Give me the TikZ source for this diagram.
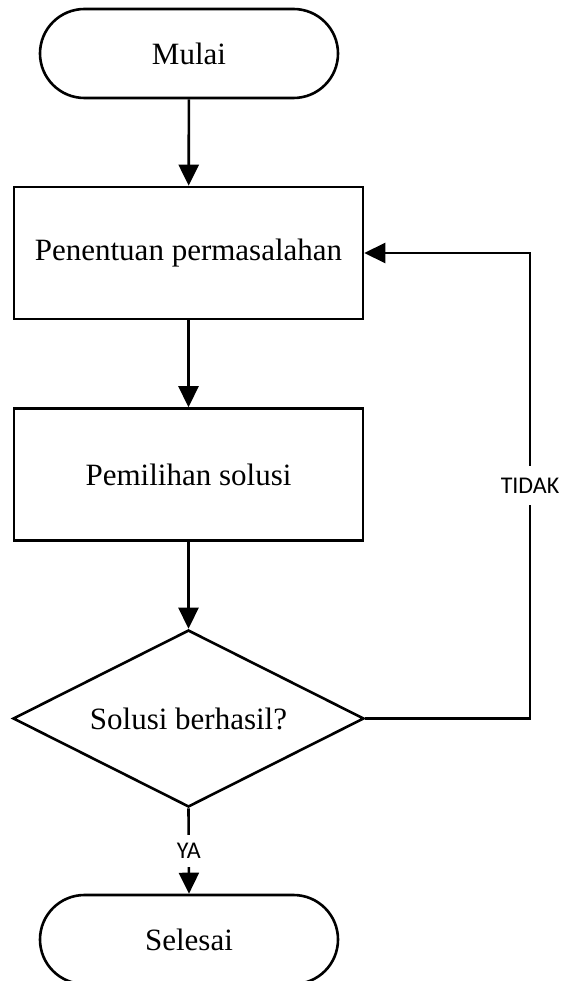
\documentclass[tikz,border=0pt]{standalone}
\usepackage{fontspec}
\setmainfont{Liberation Serif}
\newfontfamily\labelfont{Carlito}
\usetikzlibrary{shapes.geometric,arrows.meta}

\tikzset{
  base/.style={draw=black, line width=2.6pt, font=\fontsize{31}{36}\selectfont, align=center, inner sep=0pt},
  terminal/.style={base, rectangle, rounded corners=44.5pt, minimum width=298pt, minimum height=89pt},
  process/.style={base, rectangle, minimum width=349pt, minimum height=132pt},
  decision/.style={base, diamond, aspect=1.98, minimum width=351pt, minimum height=177pt},
  flow/.style={line width=2.6pt, -{Triangle[length=21pt,width=20pt]}},
  lbl/.style={fill=white, font=\labelfont\fontsize{24}{28}\selectfont, inner xsep=2pt, inner ysep=8pt}
}

\begin{document}
\begin{tikzpicture}[x=1pt,y=-1pt]
  \useasboundingbox (0,0) rectangle (562,981);

  \node[terminal] (start)  at (189,53.5)  {Mulai};
  \node[process]  (s1)     at (188.5,253) {Penentuan permasalahan};
  \node[process]  (s2)     at (188.5,474.5) {Pemilihan solusi};
  \node[decision] (dec)    at (188.5,718.5) {Solusi berhasil?};
  \node[terminal] (finish) at (189,939.5) {Selesai};

  \coordinate (loopA) at (530,718.5);
  \coordinate (loopB) at (530,253);

  \draw[flow] (start) -- (s1);
  \draw[flow] (s1) -- (s2);
  \draw[flow] (s2) -- (dec);
  \draw[flow] (dec.south) -- node[lbl] {YA} (finish.north);
  \draw[flow] (dec.east) -- (loopA) -- node[lbl, inner ysep=12pt] {TIDAK} (loopB) -- (s1.east);
\end{tikzpicture}
\end{document}
